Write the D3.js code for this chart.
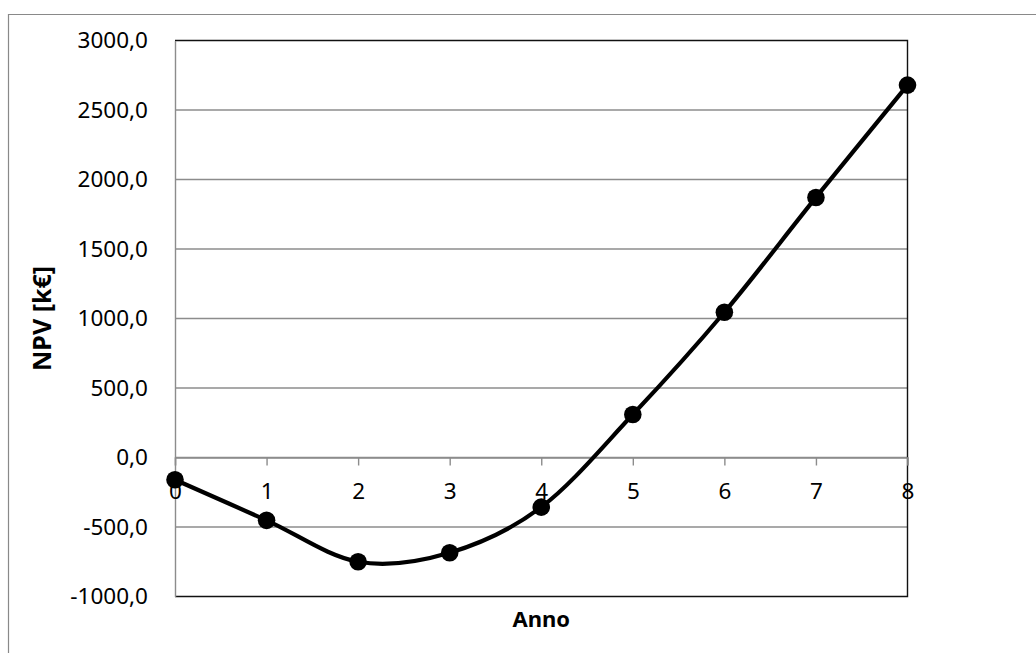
<!DOCTYPE html>
<html>
<head>
<meta charset="utf-8">
<script src="https://cdn.jsdelivr.net/npm/d3@7"></script>
<style>
  html, body { margin: 0; padding: 0; background: #ffffff; }
  svg { display: block; }
  text { font-family: "Noto Sans", "Open Sans", sans-serif; fill: #000; }
</style>
</head>
<body>
<svg id="chart" width="1036" height="653"></svg>
<script>
// NPV by year
const years = [0, 1, 2, 3, 4, 5, 6, 7, 8];
const npv = [-160, -452, -750, -685, -357, 309, 1045, 1871, 2679];
const yTicks = [-1000, -500, 0, 500, 1000, 1500, 2000, 2500, 3000];
const xTitle = "Anno";
const yTitle = "NPV [k€]";

const svg = d3.select("#chart");
const W = 1036, H = 653;
const plot = { left: 175, right: 907.5, top: 40.5, bottom: 596.5 };

// Italian-style number format: decimal comma, plain hyphen minus
const it = d3.formatLocale({ decimal: ",", thousands: "", grouping: [3], currency: ["€", ""], minus: "-" });
const fmt = it.format(".1f");

const x = d3.scaleLinear().domain([0, 8]).range([plot.left, plot.right]);
const y = d3.scaleLinear().domain([-1000, 3000]).range([plot.bottom, plot.top]);

// outer chart frame (top and left edges)
svg.append("path")
  .attr("d", `M8.5,${H} L8.5,14.5 L${W},14.5`)
  .attr("fill", "none").attr("stroke", "#898989").attr("stroke-width", 1.2);

// horizontal gridlines
svg.append("g")
  .selectAll("line")
  .data(yTicks.filter(d => d !== 3000 && d !== -1000))
  .join("line")
  .attr("x1", plot.left).attr("x2", plot.right)
  .attr("y1", d => y(d)).attr("y2", d => y(d))
  .attr("stroke", "#8c8c8c").attr("stroke-width", 1.4);

// plot area border: top, right, bottom dark
svg.append("path")
  .attr("d", `M${plot.left},${plot.top} L${plot.right},${plot.top} L${plot.right},${plot.bottom} L${plot.left},${plot.bottom}`)
  .attr("fill", "none").attr("stroke", "#111").attr("stroke-width", 1.4);

// y axis
const yAxis = svg.append("g")
  .attr("transform", `translate(${plot.left},0)`)
  .call(d3.axisLeft(y).tickValues(yTicks).tickFormat(fmt).tickSize(0).tickPadding(27));
yAxis.select(".domain").attr("stroke", "#8c8c8c").attr("stroke-width", 1.4);
yAxis.selectAll("text")
  .attr("font-family", "'Noto Sans', sans-serif")
  .attr("font-size", 22.5)
  .attr("fill", "#000");

// x axis sits on the zero line, ticks pointing down
const xAxis = svg.append("g")
  .attr("transform", `translate(0,${y(0)})`)
  .call(d3.axisBottom(x).tickValues(years).tickFormat(d3.format("d")).tickSize(8).tickPadding(18));
xAxis.select(".domain").attr("stroke", "#8c8c8c").attr("stroke-width", 1.4);
xAxis.selectAll(".tick line").attr("stroke", "#8c8c8c").attr("stroke-width", 1.4);
xAxis.selectAll("text")
  .attr("font-family", "'Noto Sans', sans-serif")
  .attr("font-size", 22.5)
  .attr("fill", "#000");

// smoothed NPV line
const pts = years.map((d, i) => [d, npv[i]]);
const line = d3.line()
  .x(d => x(d[0]))
  .y(d => y(d[1]))
  .curve(d3.curveCatmullRom.alpha(0));

svg.append("path")
  .datum(pts)
  .attr("d", line)
  .attr("fill", "none")
  .attr("stroke", "#000")
  .attr("stroke-width", 4.2)
  .attr("stroke-linejoin", "round");

// markers
svg.append("g")
  .selectAll("circle")
  .data(pts)
  .join("circle")
  .attr("cx", d => x(d[0]))
  .attr("cy", d => y(d[1]))
  .attr("r", 8.8)
  .attr("fill", "#000");

// axis titles
svg.append("text")
  .attr("x", (plot.left + plot.right) / 2)
  .attr("y", 627)
  .attr("text-anchor", "middle")
  .attr("font-size", 22)
  .attr("font-weight", "bold")
  .text(xTitle);

svg.append("text")
  .attr("transform", `translate(51,${(plot.top + plot.bottom) / 2}) rotate(-90)`)
  .attr("text-anchor", "middle")
  .attr("font-size", 25)
  .attr("font-weight", "bold")
  .text(yTitle);
</script>
</body>
</html>
